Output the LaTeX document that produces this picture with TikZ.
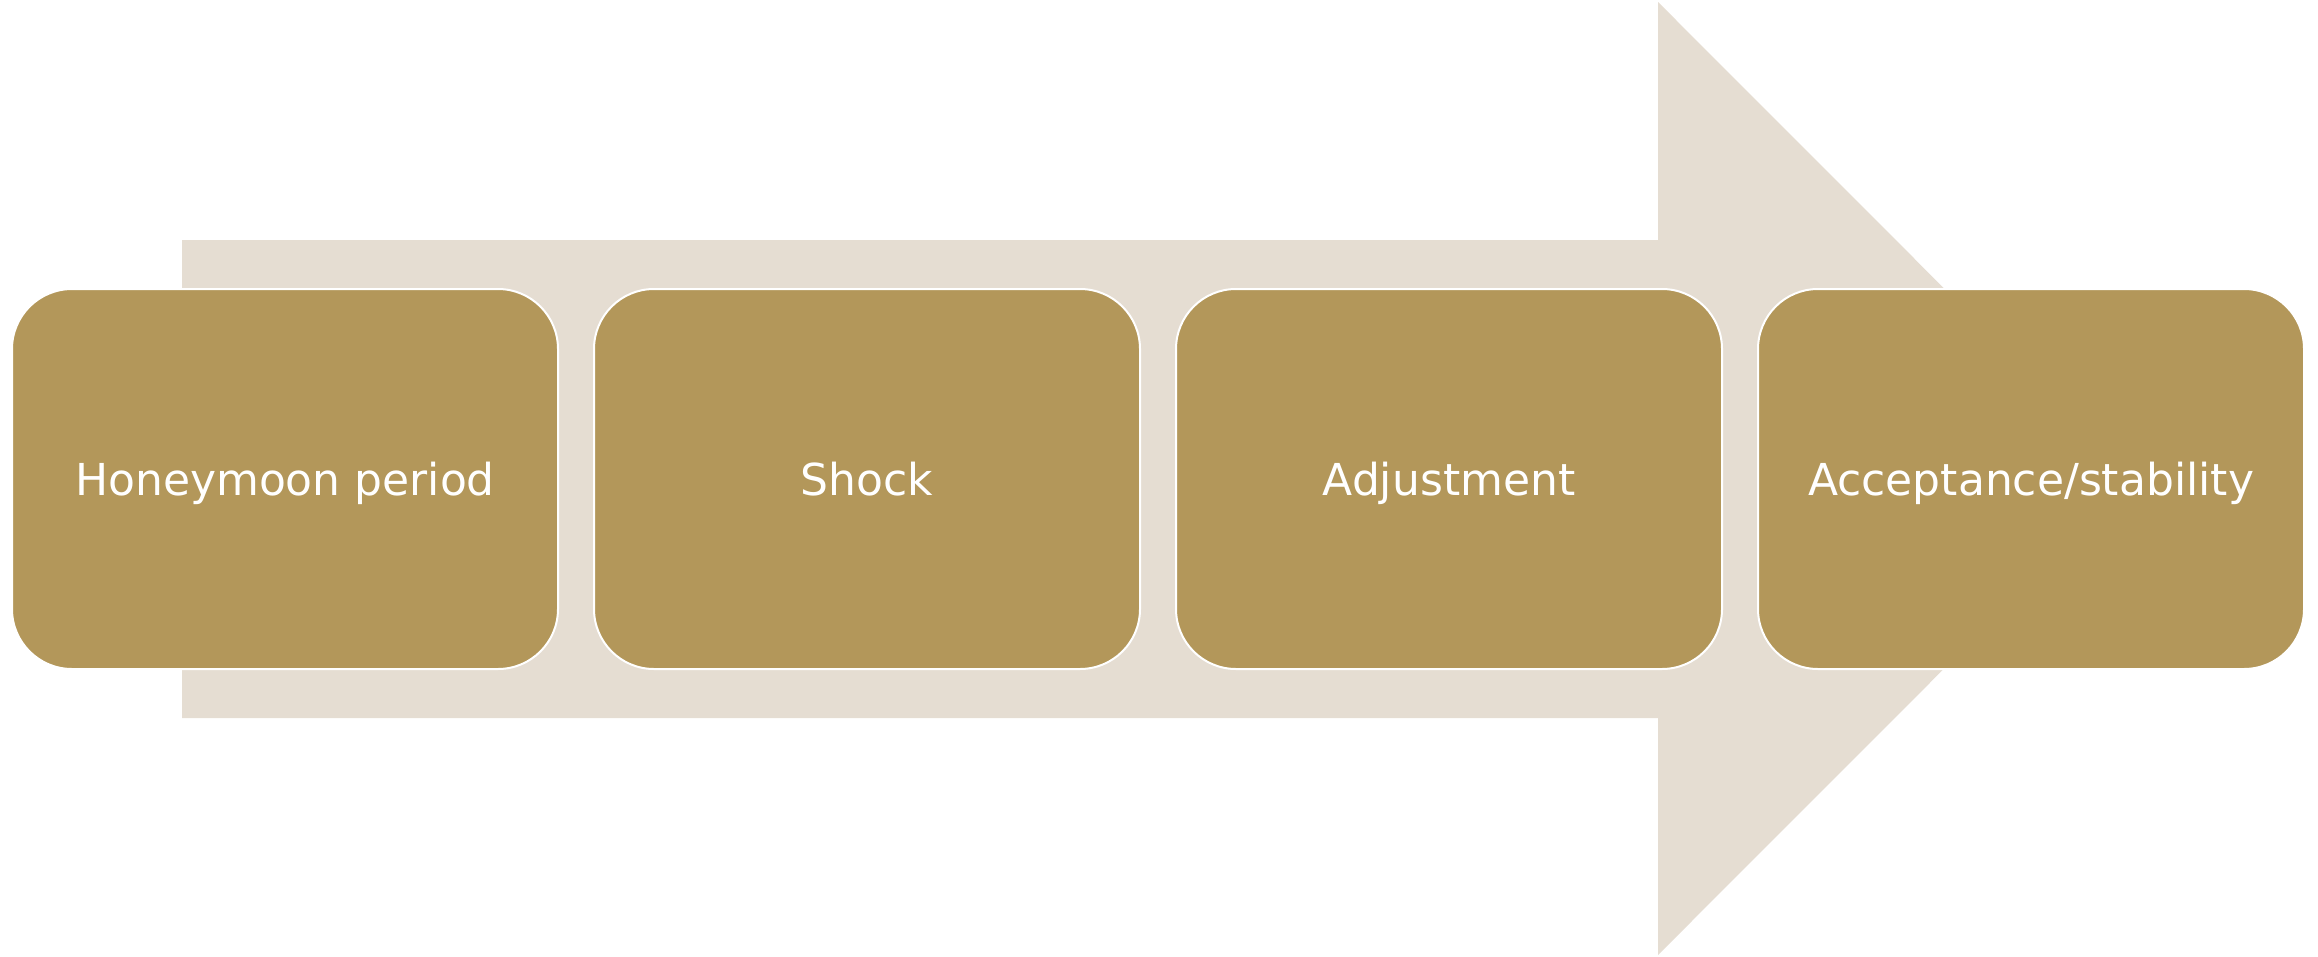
\documentclass[tikz,border=0pt]{standalone}
\usepackage{fontspec}
\setmainfont{DejaVu Sans}
\definecolor{gold}{RGB}{179,151,90}
\definecolor{beige}{RGB}{229,221,210}
\begin{document}
\begin{tikzpicture}[x=1pt,y=-1pt,
  stagebox/.style={rectangle, rounded corners=60pt, fill=gold, draw=white, line width=2pt,
    minimum width=546pt, minimum height=380pt, inner sep=0pt, text=white,
    text height=34pt, text depth=2pt,
    font=\fontsize{44pt}{53pt}\selectfont}]
\useasboundingbox (0,0) rectangle (2318,956);
\fill[beige] (182,240) -- (1658,240) -- (1658,2) -- (2134,478.5) -- (1658,955) -- (1658,718) -- (182,718) -- cycle;
\node[stagebox] (s1) at (285,479) {Honeymoon period};
\node[stagebox] (s2) at (867,479) {Shock};
\node[stagebox] (s3) at (1449,479) {Adjustment};
\node[stagebox] (s4) at (2031,479) {Acceptance/stability};
\end{tikzpicture}
\end{document}
